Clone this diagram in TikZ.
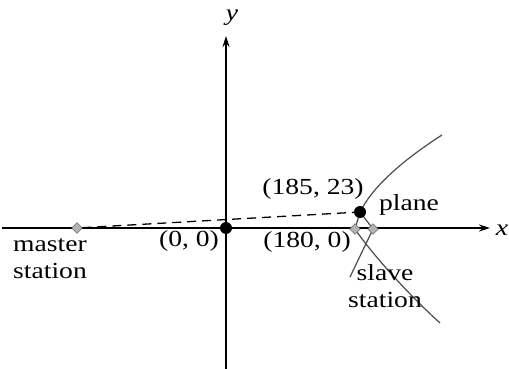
\documentclass[tikz,border=0pt]{standalone}
\usepackage{fontspec}
\setmainfont{Liberation Serif}
\usetikzlibrary{arrows.meta,shapes.geometric}

\begin{document}
\begin{tikzpicture}[x=1pt, y=-1pt,
  axisL/.style={line width=1.4pt, -{Stealth[length=11pt, width=7pt]}},
  pointN/.style={circle, fill=black, inner sep=0pt, minimum size=12pt},
  stationN/.style={diamond, fill=gray!60, draw=gray!60!black, inner sep=0pt, minimum size=11pt},
  textL/.style={font=\fontsize{23}{27}\selectfont, align=center, inner sep=0pt, xscale=1.2, transform shape},
  signal/.style={line width=1.3pt, dash pattern=on 9pt off 6pt},
  branch/.style={gray!60!black, line width=1.2pt}
]
\useasboundingbox (0,0) rectangle (509,369);
% Axes
\coordinate (xl) at (2,228);
\coordinate (xr) at (490,228);
\coordinate (yb) at (226,369);
\coordinate (yt) at (226,36);
\draw[axisL] (xl) -- (xr);
\draw[axisL] (yb) -- (yt);
\node[textL, font=\fontsize{23}{27}\selectfont\itshape] (xlab) at (502,230) {x};
\node[textL, font=\fontsize{23}{27}\selectfont\itshape] (ylab) at (232,18) {y};
% Hyperbola
\coordinate (hTop) at (442,135);
\coordinate (hLow) at (350,277);
\coordinate (hEnd) at (440,323);
\coordinate (pl) at (360,212);
\coordinate (vL) at (355,229);
\coordinate (vR) at (373,229);
\draw[branch] (hTop) .. controls (400,162) and (372,188) .. (pl) -- (vR) -- (hLow);
\draw[branch] (hEnd) .. controls (395,282) and (362,240) .. (vL) -- (pl);
% Stations and plane
\node[stationN] (master) at (77,228) {};
\node[stationN] (slave) at (vL) {};
\node[stationN] (vertex) at (vR) {};
\node[pointN] (origin) at (226,228) {};
\node[pointN] (plane) at (pl) {};
% Signal
\draw[signal] (master) -- (plane);
% Labels
\node[textL] (masterL) at (50,259) {master\\station};
\node[textL] (slaveL) at (385,286) {slave\\station};
\node[textL] (originL) at (189,241) {(0, 0)};
\node[textL] (slaveC) at (307,242) {(180, 0)};
\node[textL] (planeC) at (313,189) {(185, 23)};
\node[textL] (planeL) at (409,205) {plane};
\end{tikzpicture}
\end{document}
